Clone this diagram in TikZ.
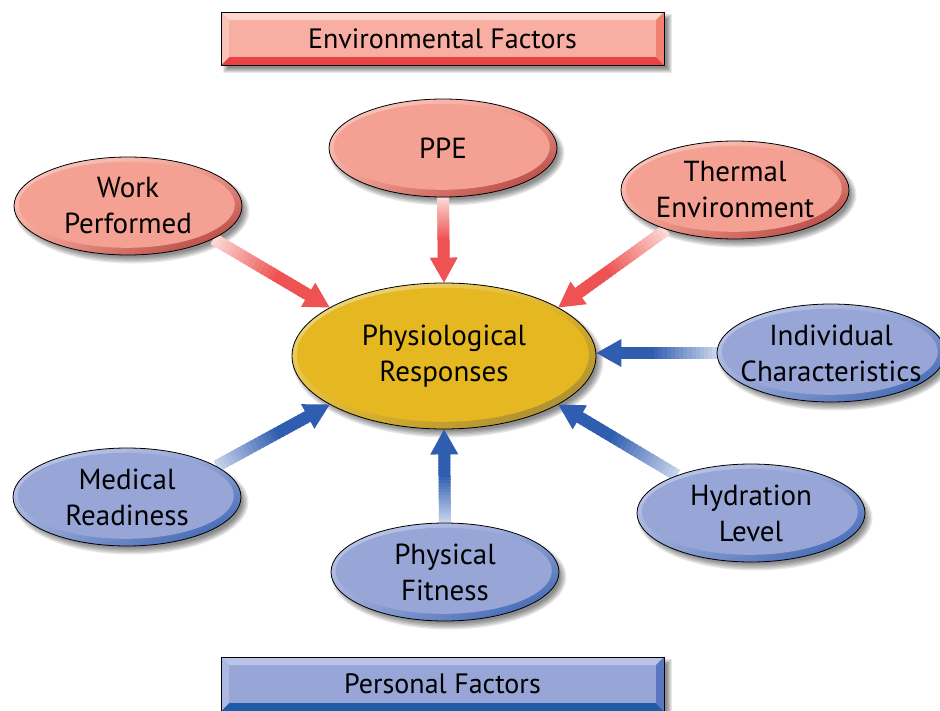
\documentclass[tikz,border=0pt]{standalone}
\usepackage{fontspec}
\setmainfont{PT Sans}
\usetikzlibrary{calc,shapes.geometric,shadings}
\pgfdeclarelayer{shadowlayer}
\pgfdeclarelayer{arrowlayer}
\pgfsetlayers{shadowlayer,arrowlayer,main}
\definecolor{redF}{HTML}{F4A092}
\definecolor{redL}{HTML}{FAD0C8}
\definecolor{redD}{HTML}{A83430}
\definecolor{bluF}{HTML}{97A6D6}
\definecolor{bluL}{HTML}{C6CFEC}
\definecolor{bluD}{HTML}{2D5AAC}
\definecolor{golF}{HTML}{E5B822}
\definecolor{golL}{HTML}{EFDC98}
\definecolor{golD}{HTML}{9A8238}
\definecolor{arRL}{HTML}{FCE4E0}
\definecolor{arRD}{HTML}{EE5252}
\definecolor{arBL}{HTML}{D4DCF0}
\definecolor{arBD}{HTML}{2F5DB0}
\definecolor{envC}{HTML}{F8AEA2}
\definecolor{envT}{HTML}{FDD6CE}
\definecolor{envL}{HTML}{FAC3B8}
\definecolor{envR}{HTML}{F0806F}
\definecolor{envB}{HTML}{E84242}
\definecolor{perC}{HTML}{97A6D6}
\definecolor{perT}{HTML}{B9C4E8}
\definecolor{perL}{HTML}{ABB8E2}
\definecolor{perR}{HTML}{5A76BF}
\definecolor{perB}{HTML}{1E5BA8}
\tikzset{
  ovaltext/.style={font=\fontsize{29}{36}\selectfont, text=black, align=center},
  oval/.style n args={5}{ellipse, draw=black, line width=0.8pt,
    minimum width=228pt, minimum height=98pt, inner sep=0pt, ovaltext,
    shade, upper left=#1, upper right=#2, lower left=#2, lower right=#3,
    path picture={\fill[#2] ([shift={(-1.2pt,1.2pt)}]path picture bounding box.center)
      ellipse [x radius=#4, y radius=#5];}},
  envoval/.style={oval={redL}{redF}{redD}{108pt}{43pt}},
  peroval/.style={oval={bluL}{bluF}{bluD}{108pt}{43pt}},
  bevelbox/.style n args={5}{rectangle, draw=black, line width=0.8pt,
    minimum width=443pt, minimum height=54pt, inner sep=0pt, fill=#1,
    font=\fontsize{28}{32}\selectfont, text=black,
    path picture={
      \coordinate (bNW) at (path picture bounding box.north west);
      \coordinate (bNE) at (path picture bounding box.north east);
      \coordinate (bSW) at (path picture bounding box.south west);
      \coordinate (bSE) at (path picture bounding box.south east);
      \fill[#2] (bNW) -- (bNE) -- ([shift={(-8pt,-8pt)}]bNE) -- ([shift={(8pt,-8pt)}]bNW) -- cycle;
      \fill[#5] (bSW) -- (bSE) -- ([shift={(-8pt,8pt)}]bSE) -- ([shift={(8pt,8pt)}]bSW) -- cycle;
      \fill[#3] (bNW) -- (bSW) -- ([shift={(8pt,8pt)}]bSW) -- ([shift={(8pt,-8pt)}]bNW) -- cycle;
      \fill[#4] (bNE) -- (bSE) -- ([shift={(-8pt,8pt)}]bSE) -- ([shift={(-8pt,-8pt)}]bNE) -- cycle;
    }},
}
\newcommand\ovalshadow[3]{%
  \foreach \k in {0,...,5}{%
    \fill[black,opacity=0.09] ($(#1.center)+(4,5)$) ellipse [x radius={#2pt-3pt+\k*1.3pt}, y radius={#3pt-3pt+\k*1.3pt}];}}
\newcommand\boxshadow[1]{%
  \foreach \k in {0,...,5}{%
    \fill[black,opacity=0.09] ($(#1.north west)+({5-(\k-2)},{5-(\k-2)})$) rectangle ($(#1.south east)+({5+(\k-2)},{5+(\k-2)})$);}}
\newcommand\fatarrow[4]{%
  \coordinate (faE) at ($(#2)!20pt!(#1)$);
  \coordinate (faM) at ($(#2)!25pt!(#1)$);
  \foreach \i in {0,...,23}{%
    \pgfmathsetmacro\pct{min(100,8+92*\i/15)}%
    \pgfmathsetmacro\fa{\i/24}%
    \pgfmathsetmacro\fb{(\i+1.4)/24}%
    \draw[line width=12pt, #4!\pct!#3] ($(#1)!\fa!(faE)$) -- ($(#1)!\fb!(faE)$);}
  \fill[#4] (#2) -- ($(faM)!14pt!90:(#2)$) -- ($(faM)!14pt!-90:(#2)$) -- cycle;}
\begin{document}
\begin{tikzpicture}[x=1pt,y=-1pt]
\useasboundingbox (0,0) rectangle (940,710);
% nodes
\node[bevelbox={envC}{envT}{envL}{envR}{envB}, minimum height=53pt] (env) at (442.5,38.5) {Environmental Factors};
\node[bevelbox={perC}{perT}{perL}{perR}{perB}] (pers) at (442.5,684) {Personal Factors};
\node[oval={golL}{golF}{golD}{146pt}{67pt}, minimum width=304pt, minimum height=146pt] (phys) at (444,356) {Physiological\\Responses};
\node[envoval] (work) at (128,206) {Work\\Performed};
\node[envoval] (ppe) at (443,148) {PPE};
\node[envoval] (therm) at (735,190) {Thermal\\Environment};
\node[peroval, inner xsep=-12pt] (indiv) at (831,353) {Individual\\Characteristics};
\node[peroval] (hydr) at (751,513) {Hydration\\Level};
\node[peroval] (fit) at (445,572) {Physical\\Fitness};
\node[peroval] (med) at (127,497) {Medical\\Readiness};
% shadows
\begin{pgfonlayer}{shadowlayer}
\fill[white] (0,0) rectangle (940,710);
\boxshadow{env}
\boxshadow{pers}
\ovalshadow{phys}{152}{73}
\foreach \n in {work,ppe,therm,indiv,hydr,fit,med}{\ovalshadow{\n}{114}{49}}
\end{pgfonlayer}
% arrows
\begin{pgfonlayer}{arrowlayer}
\fatarrow{work.339}{phys.157}{arRL}{arRD}
\fatarrow{ppe.south}{phys.north}{arRL}{arRD}
\fatarrow{therm.210}{phys.23}{arRL}{arRD}
\fatarrow{indiv.west}{phys.east |- indiv.west}{arBL}{arBD}
\fatarrow{hydr.153}{phys.337}{arBL}{arBD}
\fatarrow{fit.north}{phys.south}{arBL}{arBD}
\fatarrow{med.19}{phys.203}{arBL}{arBD}
\end{pgfonlayer}
\end{tikzpicture}
\end{document}
